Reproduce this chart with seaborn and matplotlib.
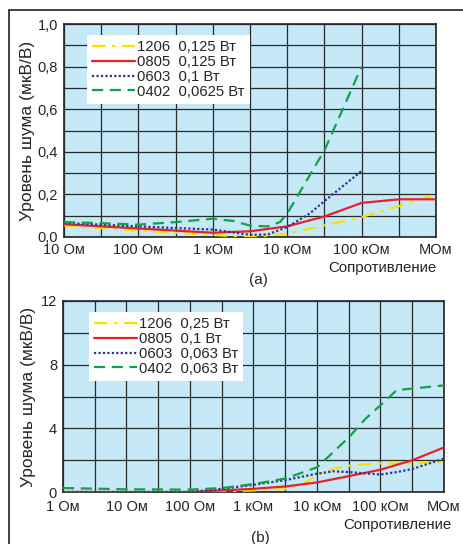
import numpy as np
import pandas as pd
import matplotlib
matplotlib.use("Agg")
import matplotlib.pyplot as plt
import seaborn as sns
from matplotlib.ticker import FixedLocator, NullFormatter

# ============================================================
# Data
# ============================================================

# panel (a): resistance in Ohm, noise in uV/V
r_a_1206 = [10, 100, 1e3, 2e3, 3.2e3, 1e4, 3.2e4, 1e5, 3.2e5, 1e6]
n_a_1206 = [0.055, 0.03, 0.01, 0.003, 0.0, 0.015, 0.055, 0.094, 0.145, 0.2]

r_a_0805 = [10, 100, 1e3, 3.2e3, 1e4, 3.2e4, 1e5, 3.2e5, 1e6]
n_a_0805 = [0.06, 0.04, 0.02, 0.027, 0.05, 0.097, 0.16, 0.177, 0.177]

r_a_0603 = [10, 100, 320, 1e3, 3.2e3, 5.5e3, 1e4, 2e4, 3.2e4, 1e5]
n_a_0603 = [0.066, 0.05, 0.042, 0.035, 0.01, 0.012, 0.047, 0.11, 0.17, 0.31]

r_a_0402 = [10, 32, 100, 320, 1e3, 1.9e3, 3.2e3, 5.5e3, 8e3, 1e4, 3.2e4, 1e5]
n_a_0402 = [0.07, 0.065, 0.058, 0.07, 0.086, 0.075, 0.053, 0.05, 0.07, 0.11, 0.41, 0.8]

# panel (b)
r_b_1206 = [1, 100, 320, 1e3, 3.2e3, 5.5e3, 1e4, 1.8e4, 3.2e4, 1e5, 3.2e5, 1e6]
n_b_1206 = [0.0, 0.0, 0.02, 0.1, 0.2, 0.4, 1.05, 1.45, 1.65, 1.8, 1.8, 1.85]

r_b_0805 = [1, 100, 1e3, 3.2e3, 1e4, 3.2e4, 1e5, 3.2e5, 1e6]
n_b_0805 = [0.0, 0.0, 0.2, 0.35, 0.6, 1.0, 1.4, 2.0, 2.8]

r_b_0603 = [1, 100, 320, 1e3, 3.2e3, 1e4, 1.8e4, 3.2e4, 1e5, 1.8e5, 3.2e5, 1e6]
n_b_0603 = [0.0, 0.0, 0.2, 0.45, 0.75, 1.15, 1.3, 1.25, 1.1, 1.25, 1.45, 2.1]

r_b_0402 = [1, 10, 100, 320, 1e3, 3.2e3, 1e4, 1.8e4, 3.2e4, 5.8e4, 1e5, 1.8e5, 3.2e5, 1e6]
n_b_0402 = [0.25, 0.17, 0.15, 0.25, 0.5, 0.85, 1.55, 2.5, 3.45, 4.6, 5.45, 6.4, 6.5, 6.7]

labels_a = ["1206  0,125 Вт", "0805  0,125 Вт", "0603  0,1 Вт", "0402  0,0625 Вт"]
labels_b = ["1206  0,25 Вт", "0805  0,1 Вт", "0603  0,063 Вт", "0402  0,063 Вт"]

xticks_a = [10, 100, 1e3, 1e4, 1e5, 1e6]
xlabels_a = ["10 Ом", "100 Ом", "1 кОм", "10 кОм", "100 кОм", "МОм"]
xticks_b = [1, 10, 100, 1e3, 1e4, 1e5, 1e6]
xlabels_b = ["1 Ом", "10 Ом", "100 Ом", "1 кОм", "10 кОм", "100 кОм", "МОм"]

yticks_a = [0.0, 0.2, 0.4, 0.6, 0.8, 1.0]
ylabels_a = ["0,0", "0,2", "0,4", "0,6", "0,8", "1,0"]
yticks_b = [0, 4, 8, 12]
ylabels_b = ["0", "4", "8", "12"]

# ============================================================
# Style
# ============================================================

sns.set_style("white")
plt.rcParams["font.family"] = ["Liberation Sans", "DejaVu Sans"]

colors = ["#f4e400", "#e8202a", "#2e3192", "#12a14b"]
styles = [(0, (6, 3, 1.5, 3)), "-", (0, (1, 1)), (0, (5, 3))]
widths = [1.6, 1.6, 1.6, 1.6]

fig = plt.figure(figsize=(4.64, 5.44), dpi=100)

# outer frame (top and left only)
fig.add_artist(plt.Line2D([9 / 464, 9 / 464], [0, 1 - 9.5 / 544], color="#222222", lw=1.2))
fig.add_artist(plt.Line2D([9 / 464, 1], [1 - 9.5 / 544, 1 - 9.5 / 544], color="#222222", lw=1.2))

ax_a = fig.add_axes([64 / 464, (544 - 237) / 544, 372 / 464, 213 / 544])
ax_b = fig.add_axes([63 / 464, (544 - 492) / 544, 381 / 464, 191 / 544])


def draw_panel(ax, series, labels, xlim, ylim, xticks, xlabels, yticks, ylabels, ystep,
               xpad, ylabpad, leg_anchor):
    ax.set_facecolor("#c6e9f8")
    for i, (r, n) in enumerate(series):
        d = pd.DataFrame({"R": r, "N": n})
        sns.lineplot(data=d, x="R", y="N", ax=ax, color=colors[i],
                     linestyle=styles[i], lw=widths[i], label=labels[i])
    ax.set_xscale("log")
    ax.set_xlim(*xlim)
    ax.set_ylim(*ylim)

    ax.xaxis.set_major_locator(FixedLocator(xticks))
    ax.set_xticklabels(xlabels, fontsize=10.5)
    dec = np.log10(xticks)
    half = [10 ** (d + 0.5) for d in dec[:-1]]
    ax.xaxis.set_minor_locator(FixedLocator(half))
    ax.xaxis.set_minor_formatter(NullFormatter())

    ax.yaxis.set_major_locator(FixedLocator(yticks))
    ax.set_yticklabels(ylabels, fontsize=10.5)
    ax.yaxis.set_minor_locator(FixedLocator(list(np.arange(ylim[0], ylim[1], ystep))))

    ax.grid(True, which="both", color="#2a2a2a", lw=0.9)
    ax.set_axisbelow(False)
    for ln in ax.get_lines():
        ln.set_zorder(3)
    ax.tick_params(which="both", length=0)
    ax.tick_params(axis="x", pad=xpad)
    ax.tick_params(axis="y", pad=4.3)
    for s in ax.spines.values():
        s.set_color("#222222")
        s.set_linewidth(1.2)

    ax.set_xlabel("")
    ax.set_ylabel("Уровень шума (мкВ/В)", fontsize=12.5, labelpad=ylabpad)

    leg = ax.legend(loc="upper left", bbox_to_anchor=leg_anchor, fontsize=10.7,
                    frameon=True, fancybox=False, framealpha=1, edgecolor="white",
                    handlelength=2.9, handletextpad=0.1, labelspacing=0.05,
                    borderpad=0.35, borderaxespad=0)
    leg.get_frame().set_linewidth(0)
    leg.set_zorder(5)


draw_panel(ax_a,
           [(r_a_1206, n_a_1206), (r_a_0805, n_a_0805), (r_a_0603, n_a_0603), (r_a_0402, n_a_0402)],
           labels_a, (10, 1e6), (0, 1.0), xticks_a, xlabels_a, yticks_a, ylabels_a, 0.1,
           4.6, 2.0, (0.062, 0.948))

draw_panel(ax_b,
           [(r_b_1206, n_b_1206), (r_b_0805, n_b_0805), (r_b_0603, n_b_0603), (r_b_0402, n_b_0402)],
           labels_b, (1, 1e6), (0, 12), xticks_b, xlabels_b, yticks_b, ylabels_b, 2,
           6.0, 3.6, (0.068, 0.942))

# x axis names and panel captions
fig.text(382 / 464, 1 - 268 / 544, "Сопротивление", ha="center", va="center", fontsize=10.8)
fig.text(258 / 464, 1 - 280 / 544, "(a)", ha="center", va="center", fontsize=11)
fig.text(397 / 464, 1 - 525 / 544, "Сопротивление", ha="center", va="center", fontsize=10.8)
fig.text(260 / 464, 1 - 538 / 544, "(b)", ha="center", va="center", fontsize=11)

plt.savefig("out.png", dpi=100, facecolor="white")
